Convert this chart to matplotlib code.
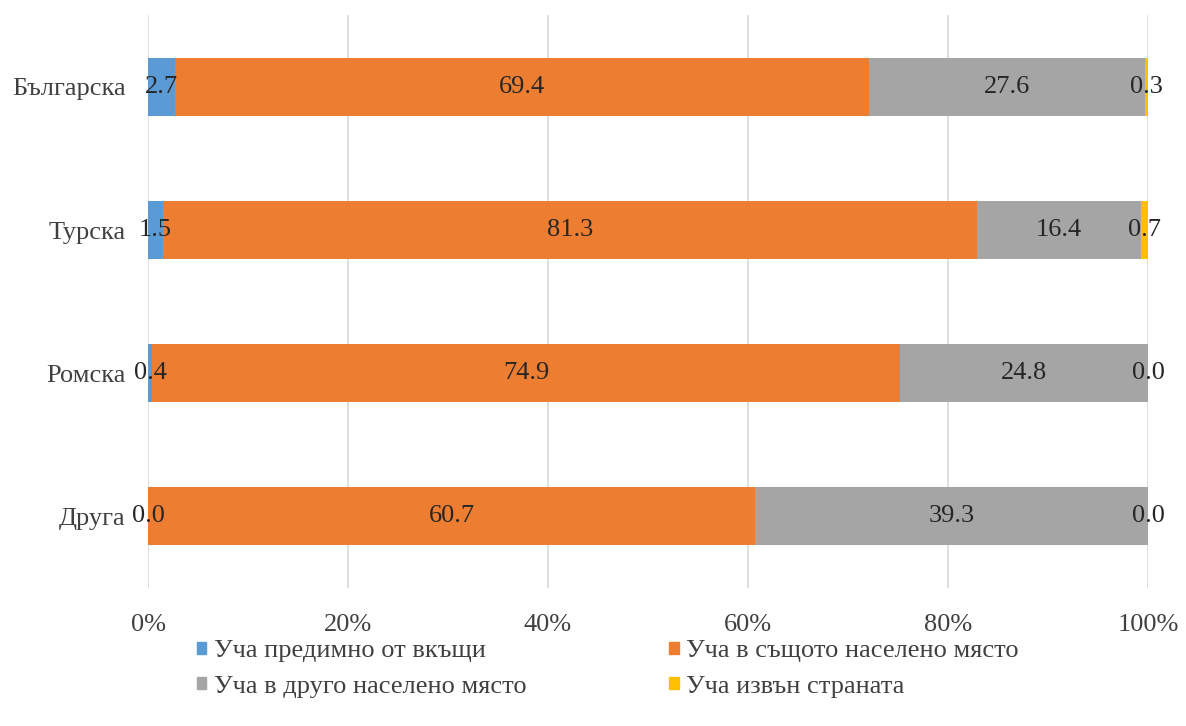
import numpy as np
import matplotlib.pyplot as plt
from matplotlib.ticker import FuncFormatter
from matplotlib.patches import Patch

plt.rcParams['font.family'] = ['Liberation Serif', 'DejaVu Serif']

categories = ['Българска', 'Турска', 'Ромска', 'Друга']
series_names = ['Уча предимно от вкъщи', 'Уча в същото населено място',
                'Уча в друго населено място', 'Уча извън страната']
home = [2.7, 1.5, 0.4, 0.0]
same_place = [69.4, 81.3, 74.9, 60.7]
other_place = [27.6, 16.4, 24.8, 39.3]
abroad = [0.3, 0.7, 0.0, 0.0]
colors = ['#5B9BD5', '#ED7D31', '#A5A5A5', '#FFC000']

data = np.array([home, same_place, other_place, abroad])
totals = data.sum(axis=0)
shares = data / totals * 100

fig = plt.figure(figsize=(11.86, 7.26), dpi=100)
ax = fig.add_axes([0.1248, 0.190, 0.8432, 0.789])

y = np.arange(len(categories))
left = np.zeros(len(categories))
for i in range(len(series_names)):
    ax.barh(y, shares[i], left=left, height=0.405, color=colors[i], zorder=2)
    for j in range(len(categories)):
        ax.text(left[j] + shares[i][j] / 2, y[j], '%.1f' % data[i][j],
                ha='center', va='center', fontsize=19, color='#262626', zorder=3)
    left = left + shares[i]

ax.set_xlim(0, 100)
ax.set_ylim(len(categories) - 0.5, -0.5)
ax.set_xticks(np.arange(0, 101, 20))
ax.xaxis.set_major_formatter(FuncFormatter(lambda v, p: '%d%%' % v))
ax.set_yticks(y)
ax.set_yticklabels(categories)
ax.tick_params(axis='both', length=0, labelsize=19, colors='#404040')
ax.tick_params(axis='x', pad=19)
ax.tick_params(axis='y', pad=16)
ax.grid(axis='x', color='#D9D9D9', linewidth=1.2, zorder=0)
for s in ax.spines.values():
    s.set_visible(False)

# legend fills column by column, so reorder to get row-wise layout
order = [0, 2, 1, 3]
handles = [Patch(color=colors[k]) for k in order]
labels = [series_names[k] for k in order]
fig.legend(handles, labels, loc='upper left', bbox_to_anchor=(0.155, 0.136),
           ncol=2, frameon=False, fontsize=19, handlelength=0.35, handleheight=0.35,
           handletextpad=0.3, columnspacing=5.4, labelspacing=0.5,
           labelcolor='#404040', borderpad=0)

fig.savefig('out.png', dpi=100)
